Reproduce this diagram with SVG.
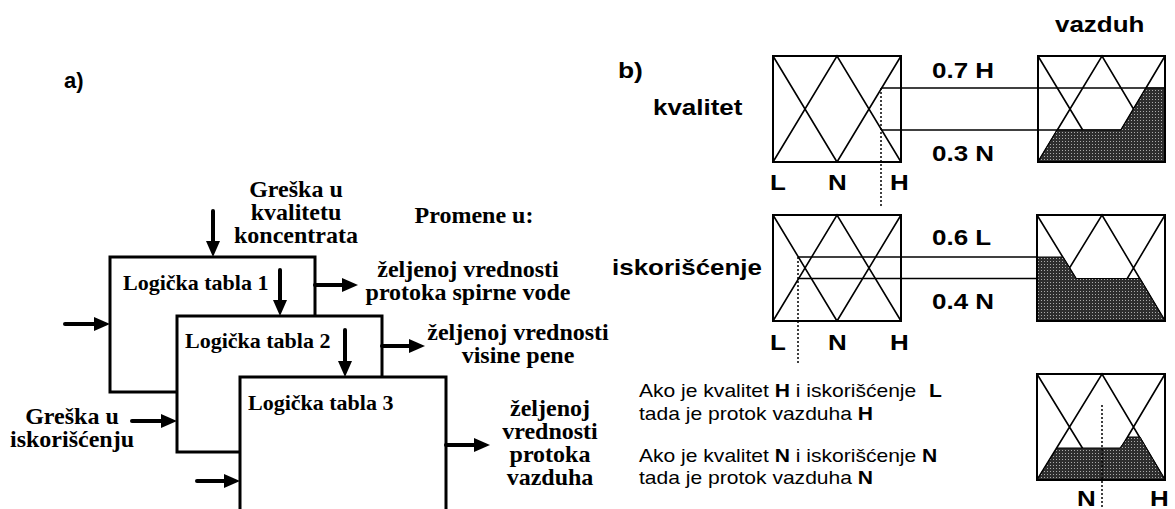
<svg xmlns="http://www.w3.org/2000/svg" width="1175" height="509" viewBox="0 0 1175 509">
<style>
.tb{font-family:"Liberation Serif","Times New Roman",serif;font-weight:bold;font-size:24px;fill:#000}
.tl{font-family:"Liberation Serif","Times New Roman",serif;font-weight:bold;font-size:22px;fill:#000}
.ab{font-family:"Liberation Sans",Arial,sans-serif;font-weight:bold;font-size:22px;fill:#000}
.ar{font-family:"Liberation Sans",Arial,sans-serif;font-size:18px;fill:#000}
.box{fill:none;stroke:#000;stroke-width:3}
.arr{stroke:#000;stroke-width:4;stroke-linecap:round;fill:none}
.fb{fill:none;stroke:#000;stroke-width:2}
.fl{fill:none;stroke:#000;stroke-width:1.6}
.hl{stroke:#000;stroke-width:1.6}
.dot{stroke:#000;stroke-width:1.5;stroke-dasharray:2,2}
.sh{fill:url(#dots);stroke:#000;stroke-width:1}
</style>
<defs>
<marker id="ah" markerUnits="userSpaceOnUse" markerWidth="16" markerHeight="14" refX="4" refY="7" orient="auto">
<path d="M0,0 L16,7 L0,14 z" fill="#000"/>
</marker>
<pattern id="dots" patternUnits="userSpaceOnUse" width="3" height="3">
<rect width="3" height="3" fill="#2e2e2e"/>
<rect width="1" height="1" fill="#aaa"/>
</pattern>
</defs>
<rect width="1175" height="509" fill="#fff"/>

<!-- part a -->
<text class="ab" x="64" y="88">a)</text>
<g id="gkk"><text class="tb" text-anchor="middle"><tspan x="296" y="197">Greška u</tspan><tspan x="296" y="220">kvalitetu</tspan><tspan x="296" y="243">koncentrata</tspan></text></g>
<text class="tb" x="474" y="223" text-anchor="middle">Promene u:</text>
<g id="tabla1"><path class="box" d="M177,392 L110,392 L110,257 L315,257 L315,316"/><text class="tl" x="123" y="290">Logička tabla 1</text></g>
<g id="tabla2"><path class="box" d="M240,452 L177,452 L177,316 L382,316 L382,377"/><text class="tl" x="185" y="348">Logička tabla 2</text></g>
<g id="tabla3"><path class="box" d="M240,512 L240,377 L446,377 L446,512"/><text class="tl" x="248" y="410">Logička tabla 3</text></g>
<g id="out1"><text class="tb" text-anchor="middle"><tspan x="468" y="277">željenoj vrednosti</tspan><tspan x="468" y="300">protoka spirne vode</tspan></text></g>
<g id="out2"><text class="tb" text-anchor="middle"><tspan x="518" y="340">željenoj vrednosti</tspan><tspan x="518" y="363">visine pene</tspan></text></g>
<g id="out3"><text class="tb" text-anchor="middle"><tspan x="550" y="416">željenoj</tspan><tspan x="550" y="439">vrednosti</tspan><tspan x="550" y="462">protoka</tspan><tspan x="550" y="485">vazduha</tspan></text></g>
<g id="gi"><text class="tb" text-anchor="middle"><tspan x="72" y="424">Greška u</tspan><tspan x="72" y="447">iskorišćenju</tspan></text></g>
<g id="connectors-a">
<line class="arr" x1="213" y1="211" x2="213" y2="245" marker-end="url(#ah)"/>
<line class="arr" x1="280" y1="270" x2="280" y2="304" marker-end="url(#ah)"/>
<line class="arr" x1="345" y1="330" x2="345" y2="365" marker-end="url(#ah)"/>
<line class="arr" x1="315" y1="285" x2="346" y2="285" marker-end="url(#ah)"/>
<line class="arr" x1="382" y1="346" x2="413" y2="346" marker-end="url(#ah)"/>
<line class="arr" x1="446" y1="445" x2="478" y2="445" marker-end="url(#ah)"/>
<line class="arr" x1="65" y1="324" x2="98" y2="324" marker-end="url(#ah)"/>
<line class="arr" x1="132" y1="421" x2="165" y2="421" marker-end="url(#ah)"/>
<line class="arr" x1="197" y1="481" x2="228" y2="481" marker-end="url(#ah)"/>
</g>

<!-- part b -->
<text class="ab" transform="matrix(1.2,0,0,1,618,78)">b)</text>
<text class="ab" transform="matrix(1.18,0,0,1,1055,32)">vazduh</text>
<text class="ab" transform="matrix(1.18,0,0,1,653,115)">kvalitet</text>
<text class="ab" transform="matrix(1.18,0,0,1,612,275)">iskorišćenje</text>

<g id="box-kvalitet">
<path class="fl" d="M773,56 L837,162 M773,162 L837,56 L901,162 M837,162 L901,56"/>
<rect class="fb" x="773" y="56" width="128" height="106"/>
<text class="ab" transform="matrix(1.18,0,0,1,770,190)">L</text>
<text class="ab" transform="matrix(1.18,0,0,1,828,190)">N</text>
<text class="ab" transform="matrix(1.18,0,0,1,890,190)">H</text>
</g>
<g id="box-iskoriscenje">
<path class="fl" d="M773,215 L837,321 M773,321 L837,215 L901,321 M837,321 L901,215"/>
<rect class="fb" x="773" y="215" width="128" height="106"/>
<text class="ab" transform="matrix(1.18,0,0,1,770,350)">L</text>
<text class="ab" transform="matrix(1.18,0,0,1,828,350)">N</text>
<text class="ab" transform="matrix(1.18,0,0,1,890,350)">H</text>
</g>
<g id="connectors-b">
<line class="hl" x1="881" y1="88" x2="1165" y2="88"/>
<line class="hl" x1="881" y1="130" x2="1165" y2="130"/>
<line class="hl" x1="798" y1="257" x2="1037" y2="257"/>
<line class="hl" x1="798" y1="278.5" x2="1037" y2="278.5"/>
<line class="dot" x1="881" y1="88" x2="881" y2="206"/>
<line class="dot" x1="798" y1="257" x2="798" y2="364"/>
</g>
<g id="vazduh-1">
<path class="fl" d="M1038,56 L1102,162 M1038,162 L1102,56 L1165,162 M1102,162 L1165,56"/>
<polygon class="sh" points="1038,162 1057,130 1121,130 1146,88 1165,88 1165,162"/>
<rect class="fb" x="1038" y="56" width="127" height="106"/>
</g>
<g id="vazduh-2">
<path class="fl" d="M1037,215 L1102,321 M1037,321 L1102,215 L1165,321 M1102,321 L1165,215"/>
<polygon class="sh" points="1037,257 1063,257 1076,278.5 1140,278.5 1165,321 1037,321"/>
<rect class="fb" x="1037" y="215" width="128" height="106"/>
</g>
<g id="vazduh-3">
<path class="fl" d="M1037,374 L1102,480 M1037,480 L1102,374 L1165,480 M1102,480 L1165,374"/>
<polygon class="sh" points="1037,480 1057,448 1120,448 1128,437 1140,437 1165,480"/>
<line class="dot" x1="1102" y1="405" x2="1102" y2="509"/>
<rect class="fb" x="1037" y="374" width="128" height="106"/>
<text class="ab" transform="matrix(1.18,0,0,1,1077,506)">N</text>
<text class="ab" transform="matrix(1.18,0,0,1,1150,506)">H</text>
</g>
<text class="ab" transform="matrix(1.18,0,0,1,932,78)">0.7 H</text>
<text class="ab" transform="matrix(1.18,0,0,1,932,161)">0.3 N</text>
<text class="ab" transform="matrix(1.18,0,0,1,932,245)">0.6 L</text>
<text class="ab" transform="matrix(1.18,0,0,1,932,309)">0.4 N</text>

<g id="rules">
<text class="ar" transform="matrix(1.17,0,0,1,639,397)">Ako je kvalitet <tspan font-weight="bold">H</tspan> i iskorišćenje</text>
<text class="ar" font-weight="bold" transform="matrix(1.17,0,0,1,929,397)">L</text>
<text class="ar" transform="matrix(1.17,0,0,1,639,420)">tada je protok vazduha <tspan font-weight="bold">H</tspan></text>
<text class="ar" transform="matrix(1.17,0,0,1,639,462)">Ako je kvalitet <tspan font-weight="bold">N</tspan> i iskorišćenje <tspan font-weight="bold">N</tspan></text>
<text class="ar" transform="matrix(1.17,0,0,1,639,484)">tada je protok vazduha <tspan font-weight="bold">N</tspan></text>
</g>
</svg>
